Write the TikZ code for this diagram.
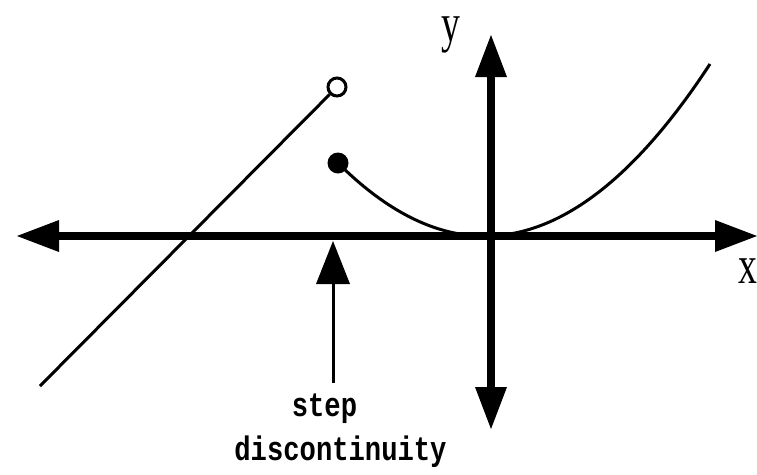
\documentclass[tikz,border=0pt]{standalone}
\usepackage{fontspec}
\setmainfont{Liberation Serif}
\newfontfamily\labfont[FakeStretch=0.7]{Liberation Serif}
\newfontfamily\txtfont[FakeStretch=0.8]{Liberation Mono}
\usetikzlibrary{arrows.meta}
\tikzset{
  axis/.style={line width=8.5pt, -{Triangle[length=42pt,width=32pt,line width=0pt]}},
  thin/.style={line width=3pt},
  pointer/.style={line width=3pt, -{Triangle[length=43pt,width=34pt,line width=0pt]}},
  axlabel/.style={inner sep=0pt, anchor=base, font=\labfont\fontsize{54}{58}\selectfont},
  note/.style={inner sep=0pt, anchor=base, font=\txtfont\bfseries\fontsize{34}{36}\selectfont},
  opendot/.style={circle, draw, line width=3pt, fill=white, minimum size=18pt, inner sep=0pt},
  fulldot/.style={circle, fill, minimum size=21pt, inner sep=0pt},
}
\begin{document}
\begin{tikzpicture}[x=1pt,y=-1pt]
\useasboundingbox (0,0) rectangle (757,474);
% coordinates
\coordinate (O) at (491,236);
\coordinate (xL) at (17,236);
\coordinate (xR) at (757,236);
\coordinate (yT) at (491,35);
\coordinate (yB) at (491,429);
\coordinate (ls) at (40,386);
\coordinate (ce) at (710,64);
\coordinate (sa) at (333,383);
\coordinate (st) at (333,241);
% axes
\draw[axis] (O) -- (xL);
\draw[axis] (O) -- (xR);
\draw[axis] (O) -- (yT);
\draw[axis] (O) -- (yB);
% dots
\node[opendot] (oc) at (337,87) {};
\node[fulldot] (fc) at (338,163) {};
% line
\draw[thin] (ls) -- (oc);
% parabola
\draw[thin] (fc.center) .. controls (462,286.5) and (586,253.6) .. (ce);
% step arrow
\draw[pointer] (sa) -- (st);
% labels
\node[axlabel] (ylab) at (450.5,41) {y};
\node[axlabel] (xlab) at (747.5,283) {x};
\node[note] (step) at (324.5,416) {step};
\node[note] (disc) at (340.5,460) {discontinuity};
\end{tikzpicture}
\end{document}
